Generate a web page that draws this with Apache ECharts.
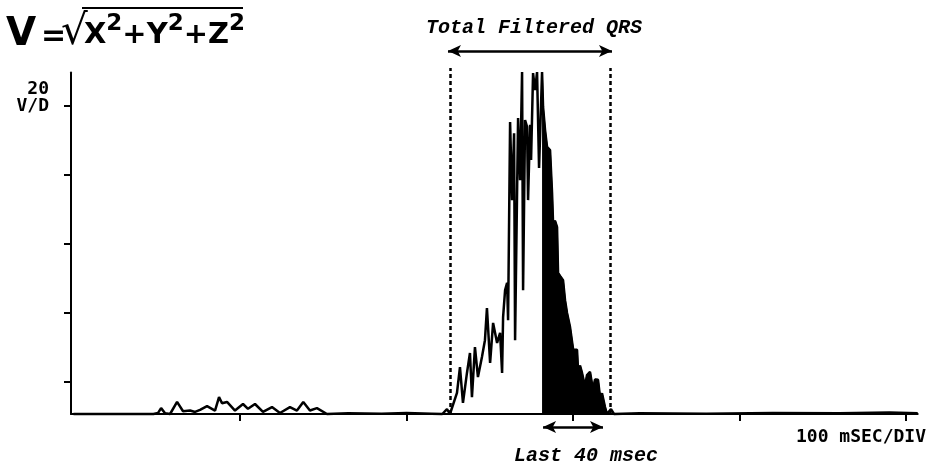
<!DOCTYPE html>
<html lang="en">
<head>
<meta charset="UTF-8">
<title>Filtered QRS vector magnitude</title>
<script src="https://cdn.jsdelivr.net/npm/echarts@6/dist/echarts.min.js"></script>
<style>
  html, body { margin: 0; padding: 0; background: #fff; }
  #chart { width: 933px; height: 468px; }
</style>
</head>
<body>
<div id="chart"></div>
<script>
// time in msec, vector magnitude in uV (20 uV / division)
var timeMs = [
  0, 48, 50.8, 52.6, 55, 58, 62.2, 65.8, 70, 73, 76, 80.2, 85, 87.4, 89.2, 92.2, 97,
  101.8, 104.8, 109, 113.8, 119.2, 124, 130, 134.2, 138, 142, 146.2, 152.2, 165, 185, 200, 215,
  221.5, 224.3, 226.1, 227.3, 230.3, 232.1, 233.9, 236.3, 238.1, 239.3, 241.1, 242.9, 245.3,
  247.1, 248.3, 250.2, 252.0, 254.4, 256.2, 257.4, 258.0, 259.2, 260.4, 261.0, 262.2, 263.4,
  264.6, 265.2, 267.0, 268.2, 269.4, 270.0, 271.2, 272.4, 273.0, 274.2, 274.8, 276.0, 277.2,
  278.4, 279.6, 281.4, 282.0, 283.2, 284.4, 286.2, 287.4, 288.0, 289.2, 290.4, 291.0, 292.2,
  294.0, 295.2, 296.4, 298.2, 300.1, 302.4, 303.0, 304.2, 305.4, 307.2, 308.4, 310.2, 312.0,
  313.2, 315.0, 316.2, 317.4, 319.2, 320.4, 321.0, 322.8, 324.6, 340, 380, 420, 460, 490, 507
];
var volts = [
  0, 0, 0.3, 1.7, 0.2, 0, 3.5, 0.8, 1.0, 0.6, 1.2, 2.3, 1.0, 4.9, 3.1, 3.5, 1.0,
  2.9, 1.5, 2.9, 0.6, 2.0, 0.3, 2.0, 1.0, 3.5, 1.0, 1.7, 0, 0.2, 0.1, 0.3, 0.1,
  0, 1.4, 0, 0, 6.1, 13.6, 3.2, 11.9, 17.7, 4.9, 19.4, 10.7, 16.5,
  21.4, 30.7, 14.8, 26.4, 20.6, 23.5, 11.9, 28.1, 35.9, 38.0, 27.2, 84.6, 62.0,
  81.4, 21.4, 85.8, 67.8, 99.1, 35.9, 85.2, 83.2, 62.0, 83.8, 73.6, 98.8, 93.9,
  99.1, 71.3, 99.1, 89.0, 82.3, 77.4, 76.5, 64.1, 55.4, 56.0, 54.2, 40.9, 40.0,
  38.8, 33.0, 29.3, 25.2, 18.6, 18.6, 12.8, 14.0, 11.9, 8.0, 11.3, 12.2, 7.0,
  10.0, 9.9, 5.0, 6.0, 2.0, 0, 0, 1.4, 0, 0.2, 0.1, 0.3, 0.2, 0.4, 0.2
];
var xTicks = [100, 200, 300, 400, 500];
var yTicks = [9.3, 29.3, 49.3, 69.3, 89.3];

var qrsOn = 226.1, qrsOff = 322.2;   // total filtered QRS
var last40On = 281.4, last40Off = 321; // shaded last 40 msec

var trace = timeMs.map(function (t, i) { return [t, volts[i]]; });
var last40 = trace.filter(function (p) { return p[0] >= last40On && p[0] <= last40Off; });

var chart = echarts.init(document.getElementById('chart'));
var monoBold = 'bold 18px "DejaVu Sans Mono"';
var italicMono = 'italic bold 20px "Liberation Mono"';

var option = {
  backgroundColor: '#fff',
  animation: false,
  grid: [
    { left: 71, right: 15.3, top: 72.45, bottom: 54 },
    // same time scale, taller value range: used for the annotation lines
    { left: 71, right: 15.3, top: 34.5, bottom: 19.5 }
  ],
  xAxis: [
    {
      type: 'value', min: -1.5, max: 507, gridIndex: 0,
      splitLine: { show: false },
      axisLine: { onZero: false, lineStyle: { color: '#000', width: 2 } },
      axisTick: { show: true, customValues: xTicks, length: 7, lineStyle: { color: '#000', width: 2 } },
      axisLabel: { show: false }
    },
    { type: 'value', min: -1.5, max: 507, gridIndex: 1, show: false }
  ],
  yAxis: [
    {
      type: 'value', min: 0, max: 99, gridIndex: 0,
      splitLine: { show: false },
      axisLine: { onZero: false, lineStyle: { color: '#000', width: 2 } },
      axisTick: { show: true, customValues: yTicks, length: 7, lineStyle: { color: '#000', width: 2 } },
      axisLabel: { show: false }
    },
    { type: 'value', min: -10, max: 110, gridIndex: 1, show: false }
  ],
  series: [
    {
      type: 'line', data: trace, showSymbol: false, clip: false,
      lineStyle: { color: '#000', width: 2.5 }
    },
    {
      type: 'line', data: last40, showSymbol: false, clip: false,
      lineStyle: { color: '#000', width: 1.5 },
      areaStyle: { color: '#000', opacity: 1, origin: 0 }
    },
    {
      type: 'line', xAxisIndex: 1, yAxisIndex: 1, data: [],
      markLine: {
        silent: true, symbol: 'none',
        label: { show: false },
        lineStyle: { color: '#000', width: 2.5, type: [4, 3] },
        data: [
          [{ coord: [qrsOn, 0] }, { coord: [qrsOn, 100.3] }],
          [{ coord: [qrsOff, 0] }, { coord: [qrsOff, 100.3] }]
        ]
      }
    },
    {
      type: 'line', xAxisIndex: 1, yAxisIndex: 1, data: [],
      markLine: {
        silent: true, symbol: ['arrow', 'arrow'], symbolSize: [9, 13],
        label: { show: false },
        lineStyle: { color: '#000', width: 2.5, type: 'solid' },
        data: [
          [{ coord: [qrsOn - 1.2, 105.2] }, { coord: [qrsOff + 1.2, 105.2] }],
          [{ coord: [last40On + 0.6, -3.8] }, { coord: [last40Off - 3, -3.8] }]
        ]
      }
    }
  ],
  graphic: [
    { type: 'text', x: 6, y: 35, style: { text: 'V', font: 'bold 39px "DejaVu Sans"', fill: '#000', verticalAlign: 'middle' } },
    { type: 'text', x: 41, y: 37, style: { text: '=', font: 'bold 30px "DejaVu Sans"', fill: '#000', verticalAlign: 'middle' } },
    { type: 'text', x: 61, y: 33, style: { text: '\u221A', font: '42px "DejaVu Sans"', fill: '#000', verticalAlign: 'middle' } },
    { type: 'line', shape: { x1: 82, y1: 8, x2: 243, y2: 8 }, style: { stroke: '#000', lineWidth: 2 } },
    {
      type: 'text', x: 84, y: 13,
      style: {
        text: '{b|X}{s|2}{b|+Y}{s|2}{b|+Z}{s|2}', fill: '#000', verticalAlign: 'top',
        rich: {
          b: { font: 'bold 29px "DejaVu Sans"', verticalAlign: 'bottom' },
          s: { font: 'bold 23px "DejaVu Sans"', verticalAlign: 'top', padding: [0, 0, 14, 0] }
        }
      }
    },
    { type: 'text', x: 49, y: 89, style: { text: '20', font: monoBold, fill: '#000', align: 'right', verticalAlign: 'middle' } },
    { type: 'text', x: 49, y: 106, style: { text: 'V/D', font: monoBold, fill: '#000', align: 'right', verticalAlign: 'middle' } },
    { type: 'text', x: 926, y: 437, style: { text: '100 mSEC/DIV', font: monoBold, fill: '#000', align: 'right', verticalAlign: 'middle' } },
    { type: 'text', x: 534, y: 28, style: { text: 'Total Filtered QRS', font: italicMono, fill: '#000', align: 'center', verticalAlign: 'middle' } },
    { type: 'text', x: 586, y: 456, style: { text: 'Last 40 msec', font: italicMono, fill: '#000', align: 'center', verticalAlign: 'middle' } }
  ]
};

chart.setOption(option);
</script>
</body>
</html>
